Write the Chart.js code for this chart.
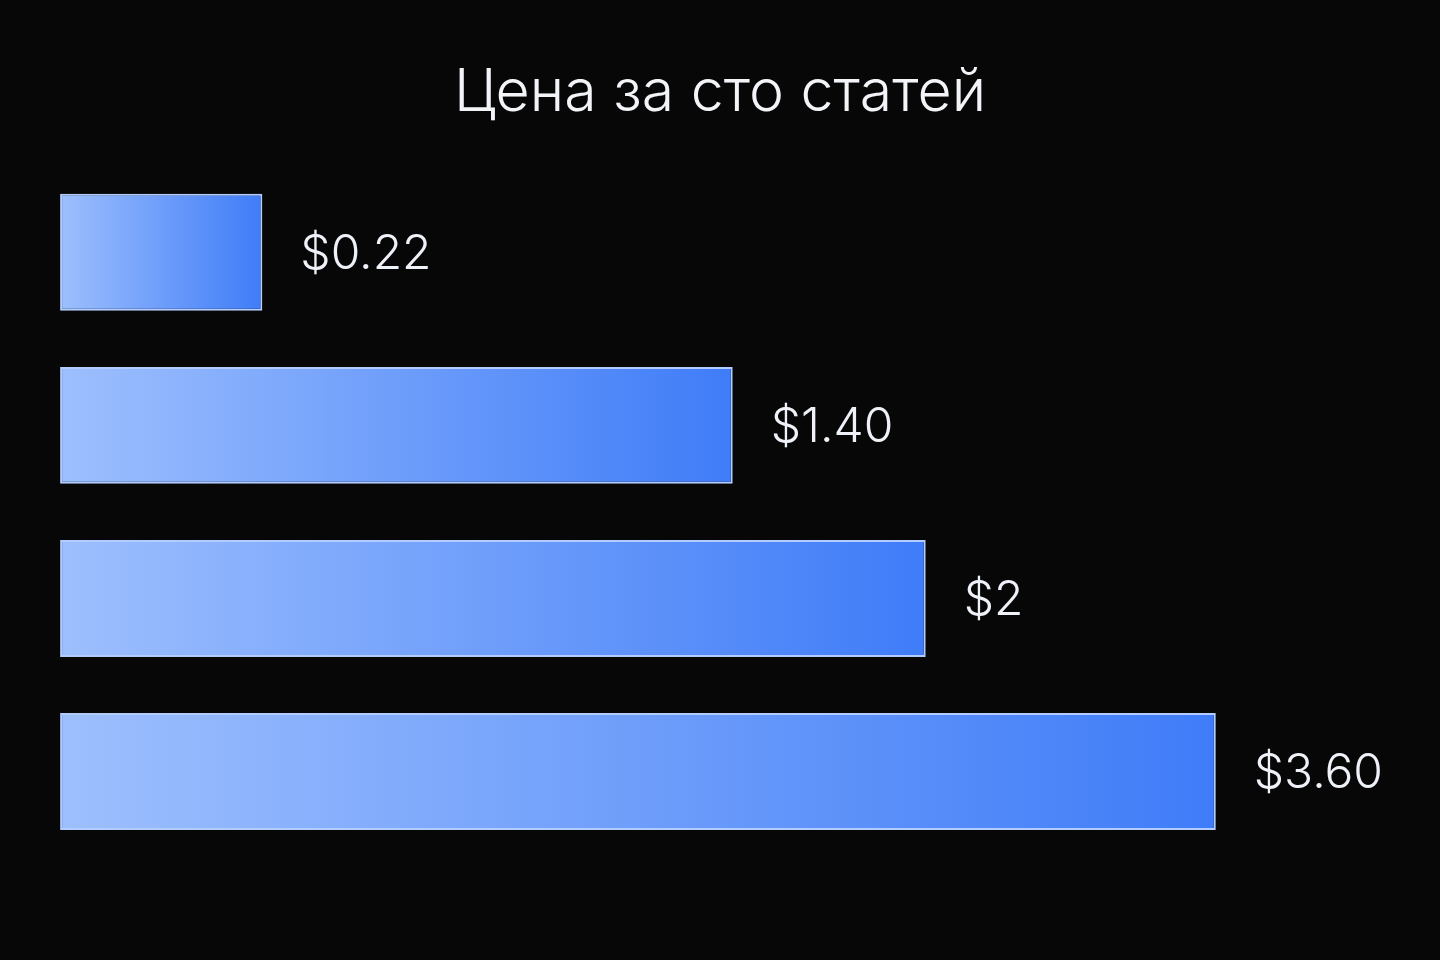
<!DOCTYPE html>
<html lang="ru">
<head>
<meta charset="utf-8">
<script src="https://cdn.jsdelivr.net/npm/chart.js@4/dist/chart.umd.min.js"></script>
<style>
    html, body {margin:0; padding:0; background:#070707;}
    .reportGraph {width:1440px; height:960px; position:relative}
</style>
</head>
<body>

<div class="reportGraph"><canvas id="canvas"></canvas></div>

<script type="text/javascript">
'use strict';

// data
var chartTitle = "Цена за сто статей";
var categories = ["A", "B", "C", "D"];
// bar length as share of the longest bar (the bars are not drawn to price scale)
var barLengths = [0.175, 0.582, 0.749, 1.0];
var priceLabels = ["$0.22", "$1.40", "$2", "$3.60"];

// one gradient per bar, light on the left to saturated blue on the right
function barGradient(context) {
    var chart = context.chart;
    if (!chart.chartArea || context.type !== 'data') return '#6a9cff';
    var x = chart.scales.x;
    var x0 = x.getPixelForValue(0);
    var x1 = x.getPixelForValue(context.raw);
    var g = chart.ctx.createLinearGradient(x0, 0, x1, 0);
    g.addColorStop(0, '#9dbffd');
    g.addColorStop(1, '#3f7cf8');
    return g;
}

var valueLabels = {
    id: 'valueLabels',
    afterDatasetsDraw: function(chart) {
        var ctx = chart.ctx;
        var meta = chart.getDatasetMeta(0);
        ctx.save();
        ctx.font = '300 48px Inter';
        ctx.fillStyle = '#eef1f7';
        ctx.textAlign = 'left';
        ctx.textBaseline = 'middle';
        meta.data.forEach(function(bar, i) {
            ctx.fillText(priceLabels[i], bar.x + 38, bar.y + 2);
        });
        ctx.restore();
    }
};

function drawGraphs() {
    new Chart(document.getElementById("canvas"), {
        type: 'bar',
        data: {
            labels: categories,
            datasets: [{
                data: barLengths,
                backgroundColor: barGradient,
                borderColor: '#b3ccff',
                borderWidth: 2,
                borderSkipped: false,
                categoryPercentage: 1,
                barPercentage: 0.676,
                clip: false
            }]
        },
        options: {
            indexAxis: 'y',
            responsive: true,
            maintainAspectRatio: false,
            animation: false,
            layout: {padding: {left: 0, right: 0, top: 0, bottom: 102}},
            scales: {
                // full width axis, 0 sits 60px in from the left edge
                x: {display: false, min: -0.052, max: 1.194},
                y: {display: false}
            },
            plugins: {
                legend: {display: false},
                tooltip: {enabled: false},
                title: {
                    display: true,
                    text: chartTitle,
                    color: '#f2f4f8',
                    font: {family: 'Inter', size: 59, weight: '300', lineHeight: 1.2},
                    padding: {top: 58, bottom: 37}
                }
            }
        },
        plugins: [valueLabels]
    });
}
window.onload = function() {
    drawGraphs();
};
</script>
</body>
</html>
